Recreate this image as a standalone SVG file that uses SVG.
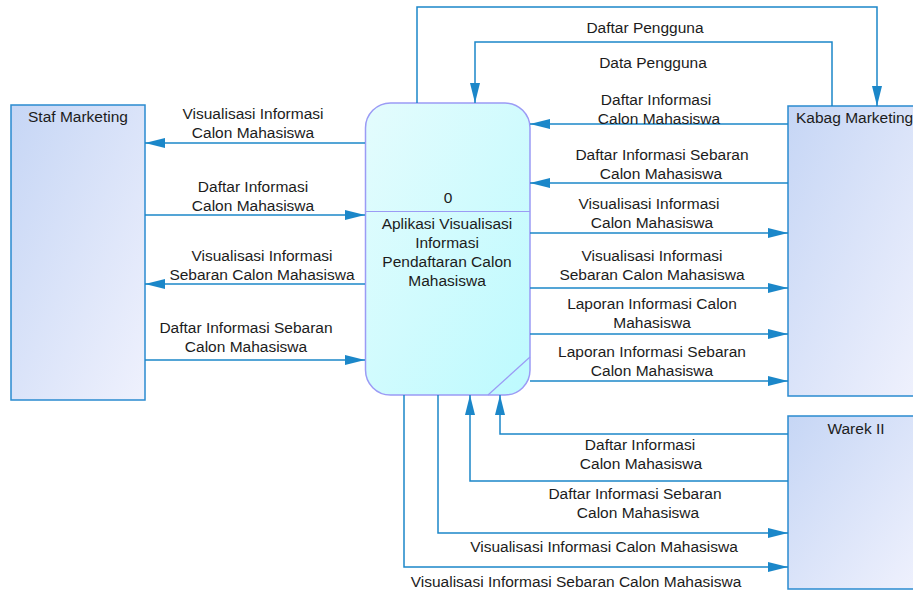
<svg xmlns="http://www.w3.org/2000/svg" width="913" height="594" viewBox="0 0 913 594">
<style>
.t{font-family:"Liberation Sans",Arial,sans-serif;font-size:15.5px;fill:#1c1c1c;text-anchor:middle}
.ts{font-family:"Liberation Sans",Arial,sans-serif;font-size:15.5px;fill:#1c1c1c}
.c{fill:none;stroke:#1b87c9;stroke-width:1.5;marker-end:url(#ah)}
.ent{fill:url(#ge);stroke:#2a8bd0;stroke-width:1.5}
</style>
<defs>
<linearGradient id="ge" x1="0" y1="0" x2="1" y2="1">
<stop offset="0" stop-color="#c6d6f5"/>
<stop offset="1" stop-color="#eff1fd"/>
</linearGradient>
<linearGradient id="gp" x1="0" y1="0" x2="1" y2="1">
<stop offset="0" stop-color="#e4fcfd"/>
<stop offset="1" stop-color="#bdfafe"/>
</linearGradient>
<marker id="ah" markerUnits="userSpaceOnUse" markerWidth="20" markerHeight="10" refX="20" refY="5" orient="auto">
<path d="M0,0 L20,5 L0,10 z" fill="#1b87c9"/>
</marker>
</defs>
<rect width="913" height="594" fill="#fff"/>
<g id="staf">
<rect class="ent" x="11" y="105" width="134" height="295"/>
<text class="t" x="78" y="122">Staf Marketing</text>
</g>
<g id="kabag">
<rect class="ent" x="788" y="106" width="130" height="290"/>
<text class="ts" x="796" y="123">Kabag Marketing</text>
</g>
<g id="warek">
<rect class="ent" x="788" y="416" width="130" height="173"/>
<text class="t" x="856" y="434">Warek II</text>
</g>
<g id="process">
<rect x="365.5" y="103" width="164.5" height="292" rx="25" ry="25" fill="url(#gp)" stroke="#9b9bf5" stroke-width="1.5"/>
<line x1="365.5" y1="211.5" x2="530" y2="211.5" stroke="#9b9bf5" stroke-width="1.2"/>
<line x1="488" y1="395" x2="530" y2="357" stroke="#9b9bf5" stroke-width="1.2"/>
<text class="t" x="448" y="203">0</text>
<text class="t" x="447" y="229">Aplikasi Visualisasi</text>
<text class="t" x="447" y="248">Informasi</text>
<text class="t" x="447" y="267">Pendaftaran Calon</text>
<text class="t" x="447" y="286">Mahasiswa</text>
</g>
<g id="connectors">
<path class="c" d="M365,143 H145"/>
<path class="c" d="M145,215 H365"/>
<path class="c" d="M365,284 H145"/>
<path class="c" d="M145,360 H365"/>
<path class="c" d="M417,103 V7 H877 V106"/>
<path class="c" d="M832,106 V42 H475 V103"/>
<path class="c" d="M788,124 H530"/>
<path class="c" d="M788,183 H530"/>
<path class="c" d="M530,233 H788"/>
<path class="c" d="M530,288 H788"/>
<path class="c" d="M530,334 H788"/>
<path class="c" d="M530,381 H788"/>
<path class="c" d="M788,434 H500 V395"/>
<path class="c" d="M788,481 H470 V395"/>
<path class="c" d="M438,395 V533 H788"/>
<path class="c" d="M404,395 V567 H788"/>
</g>
<g id="labels">
<text class="t" x="253" y="119">Visualisasi Informasi</text>
<text class="t" x="253" y="138">Calon Mahasiswa</text>
<text class="t" x="253" y="192">Daftar Informasi</text>
<text class="t" x="253" y="211">Calon Mahasiswa</text>
<text class="t" x="262" y="261">Visualisasi Informasi</text>
<text class="t" x="262" y="280">Sebaran Calon Mahasiswa</text>
<text class="t" x="246" y="333">Daftar Informasi Sebaran</text>
<text class="t" x="246" y="352">Calon Mahasiswa</text>
<text class="t" x="645" y="33">Daftar Pengguna</text>
<text class="t" x="653" y="68">Data Pengguna</text>
<text class="t" x="656" y="105">Daftar Informasi</text>
<text class="t" x="659" y="124">Calon Mahasiswa</text>
<text class="t" x="662" y="160">Daftar Informasi Sebaran</text>
<text class="t" x="661" y="179">Calon Mahasiswa</text>
<text class="t" x="649" y="209">Visualisasi Informasi</text>
<text class="t" x="652" y="228">Calon Mahasiswa</text>
<text class="t" x="652" y="261">Visualisasi Informasi</text>
<text class="t" x="652" y="280">Sebaran Calon Mahasiswa</text>
<text class="t" x="652" y="309">Laporan Informasi Calon</text>
<text class="t" x="652" y="328">Mahasiswa</text>
<text class="t" x="652" y="357">Laporan Informasi Sebaran</text>
<text class="t" x="652" y="376">Calon Mahasiswa</text>
<text class="t" x="640" y="450">Daftar Informasi</text>
<text class="t" x="641" y="469">Calon Mahasiswa</text>
<text class="t" x="635" y="499">Daftar Informasi Sebaran</text>
<text class="t" x="638" y="518">Calon Mahasiswa</text>
<text class="t" x="604" y="552">Visualisasi Informasi Calon Mahasiswa</text>
<text class="t" x="576" y="587">Visualisasi Informasi Sebaran Calon Mahasiswa</text>
</g>
</svg>
